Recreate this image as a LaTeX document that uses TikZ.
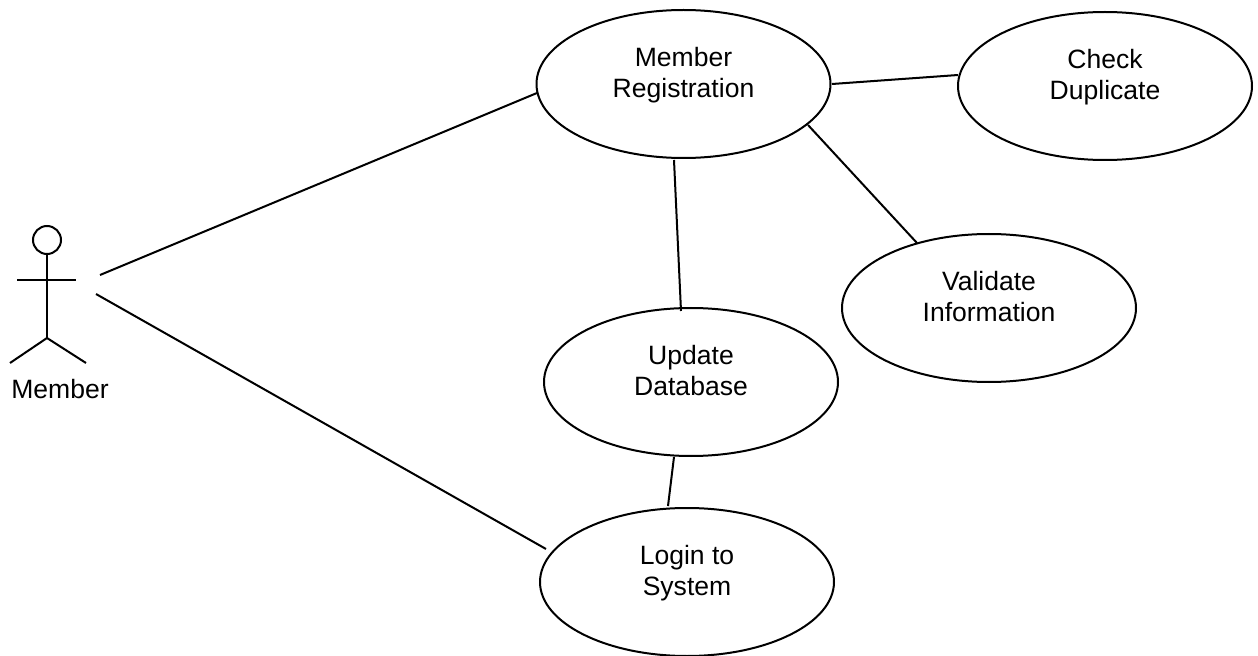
\documentclass[tikz,border=0pt]{standalone}
\usepackage{fontspec}
\setmainfont{Liberation Sans}
\usetikzlibrary{shapes.geometric}
\tikzset{x=0.75pt,y=-0.75pt,
 usecase/.style={draw=black,line width=1.5pt,ellipse,minimum width=220.5pt,minimum height=111pt,inner sep=0pt,align=center,text depth=17pt,font=\fontsize{19.9}{23.4}\selectfont},
 ln/.style={draw=black,line width=1.5pt},
 lbl/.style={font=\fontsize{19.9}{23.4}\selectfont,inner sep=0pt}}
\begin{document}
\begin{tikzpicture}
\useasboundingbox (0,0) rectangle (1258,656);
\node[usecase] (reg) at (683.5,84) {Member\\Registration};
\node[usecase] (chk) at (1105,86) {Check\\Duplicate};
\node[usecase] (val) at (989,308) {Validate\\Information};
\node[usecase] (upd) at (691,382) {Update\\Database};
\node[usecase] (log) at (687,582) {Login to\\System};
\node[draw=black,line width=1.5pt,circle,minimum size=21pt,inner sep=0pt] (head) at (47,240) {};
\coordinate (crotch) at (47,338);
\coordinate (al) at (17,280);
\coordinate (ar) at (76,280);
\coordinate (ll) at (10,363);
\coordinate (lr) at (86,363);
\draw[ln] (head) -- (crotch);
\draw[ln] (al) -- (ar);
\draw[ln] (ll) -- (crotch) -- (lr);
\node[lbl] (mem) at (60,389) {Member};
\coordinate (a1) at (100,275);
\coordinate (a2) at (96,294);
\coordinate (r1) at (537,93);
\coordinate (l1) at (546,549);
\draw[ln] (a1) -- (r1);
\draw[ln] (a2) -- (l1);
\coordinate (r2) at (832,84);
\coordinate (c2) at (958,75);
\draw[ln] (r2) -- (c2);
\coordinate (r3) at (808,125);
\coordinate (v3) at (917,243);
\draw[ln] (r3) -- (v3);
\coordinate (r4) at (674,160);
\coordinate (u4) at (681,311);
\draw[ln] (r4) -- (u4);
\coordinate (u5) at (674,457);
\coordinate (l5) at (668,506);
\draw[ln] (u5) -- (l5);
\end{tikzpicture}
\end{document}
